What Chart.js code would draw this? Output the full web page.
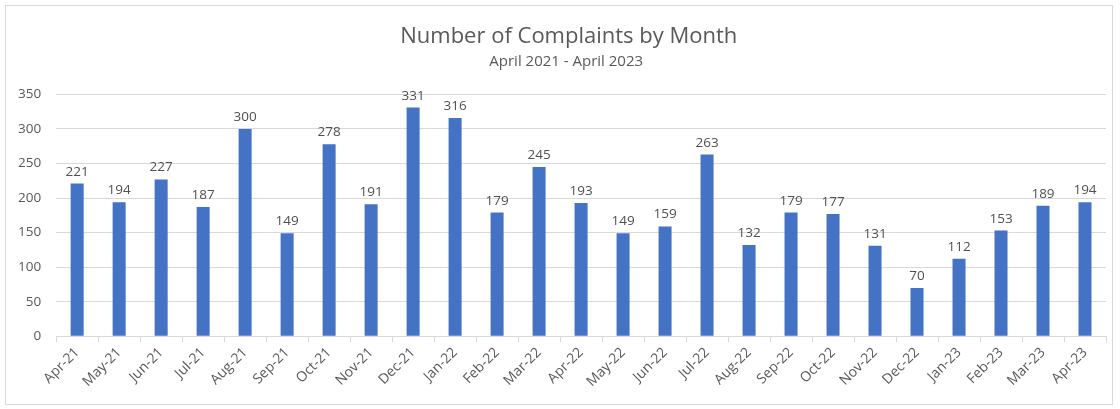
<!DOCTYPE html>
<html>
<head>
<meta charset="utf-8">
<script src="https://cdn.jsdelivr.net/npm/chart.js@4.4.1/dist/chart.umd.min.js"></script>
<style>
  html,body{margin:0;padding:0;background:#fff;}
  #box{position:absolute;left:5px;top:5px;width:1108px;height:400px;border:1px solid #d9d9d9;box-sizing:border-box;}
</style>
</head>
<body>
<div id="box"><canvas id="c"></canvas></div>
<script>
const months=["Apr-21","May-21","Jun-21","Jul-21","Aug-21","Sep-21","Oct-21","Nov-21","Dec-21","Jan-22","Feb-22","Mar-22","Apr-22","May-22","Jun-22","Jul-22","Aug-22","Sep-22","Oct-22","Nov-22","Dec-22","Jan-23","Feb-23","Mar-23","Apr-23"];
const complaints=[221,194,227,187,300,149,278,191,331,316,179,245,193,149,159,263,132,179,177,131,70,112,153,189,194];
const yTicks=[0,50,100,150,200,250,300,350];

const FONT="'Open Sans', 'Noto Sans', sans-serif";
const GREY="#595959";

// etiquetas de valor acima de cada barra
const barLabels={
  id:"barLabels",
  afterDatasetsDraw(chart){
    const ctx=chart.ctx;
    const meta=chart.getDatasetMeta(0);
    ctx.save();
    ctx.font="13.5px "+FONT;
    ctx.fillStyle="#505050";
    ctx.textAlign="center";
    ctx.textBaseline="bottom";
    meta.data.forEach((bar,i)=>{
      ctx.fillText(String(complaints[i]),bar.x,bar.y-5);
    });
    ctx.restore();
  }
};

new Chart(document.getElementById("c"),{
  type:"bar",
  data:{
    labels:months,
    datasets:[{
      data:complaints,
      backgroundColor:"#4472c4",
      borderWidth:0,
      barPercentage:0.62,
      categoryPercentage:0.5
    }]
  },
  options:{
    responsive:true,
    maintainAspectRatio:false,
    animation:false,
    layout:{padding:{left:-3,right:6,top:6,bottom:12}},
    plugins:{
      legend:{display:false},
      tooltip:{enabled:false},
      title:{
        display:true,
        // espaços à esquerda só para puxar o título um pouco para a direita
        text:"     Number of Complaints by Month",
        color:GREY,
        font:{family:FONT,size:22,weight:"normal"},
        padding:{top:12,bottom:0}
      },
      subtitle:{
        display:true,
        text:"      April 2021 - April 2023",
        color:GREY,
        font:{family:FONT,size:15,weight:"normal"},
        padding:{top:2,bottom:24}
      }
    },
    scales:{
      x:{
        offset:true,
        grid:{display:true,drawOnChartArea:false,drawTicks:true,tickLength:6,color:"#d9d9d9",offset:true},
        border:{display:true,color:"#d9d9d9"},
        ticks:{color:GREY,font:{family:FONT,size:14},maxRotation:45,minRotation:45,autoSkip:false,padding:2}
      },
      y:{
        min:0,max:350,
        afterBuildTicks:(axis)=>{axis.ticks=yTicks.map(v=>({value:v}));},
        grid:{color:"#d9d9d9",drawTicks:false},
        border:{display:false},
        ticks:{color:GREY,font:{family:FONT,size:13.5},padding:15}
      }
    }
  },
  plugins:[barLabels]
});
</script>
</body>
</html>
